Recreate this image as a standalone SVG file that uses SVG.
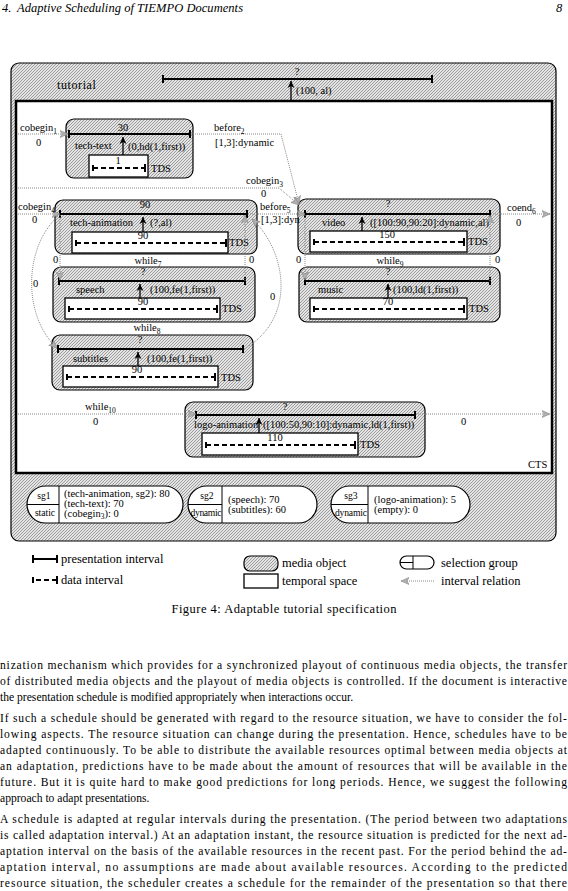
<svg xmlns="http://www.w3.org/2000/svg" width="568" height="891" viewBox="0 0 568 891">
<defs>
<style>
text{font-family:'Liberation Serif','Times New Roman',serif;fill:#000}
.s{font-size:10.5px}
.k{font-size:9.6px}
.m{text-anchor:middle}
.sub{font-size:7.5px}
.l{font-size:12.5px}
.b{font-size:11.6px}
.mo{fill:url(#hatch);stroke:#000;stroke-width:1.2}
.ts{fill:#fff;stroke:#000;stroke-width:1.3}
.pi{fill:none;stroke:#000;stroke-width:2}
.di{fill:none;stroke:#000;stroke-width:2;stroke-dasharray:5 3}
.ar{fill:none;stroke:#000;stroke-width:1.3;marker-end:url(#ba)}
.rel{fill:none;stroke:#8a8a8a;stroke-width:1;stroke-dasharray:1 1;marker-end:url(#ra)}
.sg{fill:#fff;stroke:#000;stroke-width:1.2}
.ln{fill:none;stroke:#000;stroke-width:1}
</style>
<pattern id="hatch" width="3" height="3" patternUnits="userSpaceOnUse">
<rect width="3" height="3" fill="#e4e4e4"/>
<rect x="2" y="0" width="1" height="1" fill="#9c9c9c"/>
<rect x="1" y="1" width="1" height="1" fill="#9c9c9c"/>
<rect x="0" y="2" width="1" height="1" fill="#9c9c9c"/>
</pattern>
<marker id="ra" viewBox="0 0 8 8" refX="8" refY="4" markerWidth="8" markerHeight="8" markerUnits="userSpaceOnUse" orient="auto">
<path d="M0,0.5 L8,4 L0,7.5 L2,4 Z" fill="#b0b0b0" stroke="#888" stroke-width="0.6"/>
</marker>
<marker id="ba" viewBox="0 0 8 8" refX="7" refY="4" markerWidth="8" markerHeight="8" markerUnits="userSpaceOnUse" orient="auto">
<path d="M0,0.5 L7,4 L0,7.5 L2,4 Z" fill="#000"/>
</marker>
</defs>
<rect width="568" height="891" fill="#fff"/>

<g id="header">
<text class="l" x="2" y="12" font-style="italic">4.</text>
<text class="l" x="17" y="12" font-style="italic" textLength="226">Adaptive Scheduling of TIEMPO Documents</text>
<text class="l" x="556" y="12" font-style="italic">8</text>
</g>

<g id="tutorial">
<rect class="mo" x="11" y="63" width="545" height="478" rx="8"/>
<text x="57" y="89" font-size="12" letter-spacing="0.6">tutorial</text>
<text class="s m" x="297" y="75">?</text>
<path class="pi" d="M163,79 H432 M163,75 V83 M432,75 V83"/>
<path class="ar" d="M291,101 V81"/>
<text class="s" x="296" y="94">(100, al)</text>
</g>

<g id="cts">
<rect x="16" y="101" width="536" height="372" fill="#fff" stroke="#000" stroke-width="2.5"/>
<text class="s" x="528" y="468">CTS</text>
</g>

<g id="tech-text">
<rect class="mo" x="66" y="119" width="127" height="59" rx="8"/>
<text class="s m" x="123" y="131">30</text>
<path class="pi" d="M69,134 H190 M69,130 V138 M190,130 V138"/>
<text class="s" x="75" y="149">tech-text</text>
<path class="ar" d="M123,155 V137"/>
<text class="s" x="128" y="150">(0,hd(1,first))</text>
<rect class="ts" x="89" y="155" width="59" height="22"/>
<text class="s m" x="118" y="164">1</text>
<path class="di" d="M93,168 H144"/>
<path class="pi" d="M93,165 V171 M145,164 V172"/>
<text class="s" x="151" y="172">TDS</text>
</g>

<g id="tech-animation">
<rect class="mo" x="55" y="200" width="202" height="54" rx="8"/>
<text class="s m" x="145" y="208">90</text>
<path class="pi" d="M60,214 H247 M60,210 V218 M247,210 V218"/>
<text class="s" x="70" y="226">tech-animation</text>
<path class="ar" d="M143,232 V217"/>
<text class="s" x="150" y="226">(?,al)</text>
<rect class="ts" x="72" y="232" width="156" height="21"/>
<text class="s m" x="143" y="239">90</text>
<path class="di" d="M76,243 H225"/>
<path class="pi" d="M76,240 V246 M226,239 V247"/>
<text class="s" x="229" y="246">TDS</text>
</g>

<g id="speech">
<rect class="mo" x="53" y="267" width="202" height="55" rx="8"/>
<text class="s m" x="143" y="275">?</text>
<path class="pi" d="M59,281 H245 M59,277 V285 M245,277 V285"/>
<text class="s" x="76" y="293">speech</text>
<path class="ar" d="M140,298 V284"/>
<text class="s" x="150" y="293">(100,fe(1,first))</text>
<rect class="ts" x="65" y="298" width="155" height="21"/>
<text class="s m" x="143" y="305">90</text>
<path class="di" d="M69,309 H216"/>
<path class="pi" d="M69,306 V312 M217,305 V313"/>
<text class="s" x="222" y="312">TDS</text>
</g>

<g id="subtitles">
<rect class="mo" x="52" y="335" width="201" height="55" rx="8"/>
<text class="s m" x="140" y="343">?</text>
<path class="pi" d="M58,349 H243 M58,345 V353 M243,345 V353"/>
<text class="s" x="73" y="362">subtitles</text>
<path class="ar" d="M138,366 V352"/>
<text class="s" x="147" y="362">(100,fe(1,first))</text>
<rect class="ts" x="63" y="366" width="155" height="21"/>
<text class="s m" x="137" y="373">90</text>
<path class="di" d="M67,377 H214"/>
<path class="pi" d="M67,374 V380 M215,373 V381"/>
<text class="s" x="221" y="381">TDS</text>
</g>

<g id="video">
<rect class="mo" x="298" y="199" width="202" height="55" rx="8"/>
<text class="s m" x="388" y="207">?</text>
<path class="pi" d="M305,214 H490 M305,210 V218 M490,210 V218"/>
<text class="s" x="322" y="226">video</text>
<path class="ar" d="M362,231 V217"/>
<text class="s" x="370" y="226">([100:90,90:20]:dynamic,al)</text>
<rect class="ts" x="310" y="231" width="157" height="21"/>
<text class="s m" x="387" y="238">150</text>
<path class="di" d="M314,242 H463"/>
<path class="pi" d="M314,239 V245 M464,238 V246"/>
<text class="s" x="468" y="245">TDS</text>
</g>

<g id="music">
<rect class="mo" x="299" y="267" width="201" height="55" rx="8"/>
<text class="s m" x="388" y="275">?</text>
<path class="pi" d="M305,281 H490 M305,277 V285 M490,277 V285"/>
<text class="s" x="318" y="293">music</text>
<path class="ar" d="M388,298 V284"/>
<text class="s" x="393" y="293">(100,ld(1,first))</text>
<rect class="ts" x="310" y="298" width="157" height="21"/>
<text class="s m" x="388" y="305">70</text>
<path class="di" d="M314,309 H463"/>
<path class="pi" d="M314,306 V312 M464,305 V313"/>
<text class="s" x="469" y="312">TDS</text>
</g>

<g id="logo-animation">
<rect class="mo" x="185" y="402" width="240" height="55" rx="8"/>
<text class="s m" x="285" y="410">?</text>
<path class="pi" d="M196,415 H415 M196,411 V419 M415,411 V419"/>
<text class="s" x="194" y="428">logo-animation</text>
<path class="ar" d="M259,433 V418"/>
<text class="s" x="263" y="428">([100:50,90:10]:dynamic,ld(1,first))</text>
<rect class="ts" x="202" y="433" width="156" height="22"/>
<text class="s m" x="275" y="441">110</text>
<path class="di" d="M206,445 H354"/>
<path class="pi" d="M206,442 V448 M355,441 V449"/>
<text class="s" x="360" y="448">TDS</text>
</g>

<g id="connectors">
<path class="rel" d="M18,134 H68"/>
<path class="rel" d="M191,134 H281 L299,204"/>
<path class="rel" d="M18,188 H279 L299,205"/>
<path class="rel" d="M18,214 H60"/>
<path class="rel" d="M248,214 H305"/>
<path class="rel" d="M491,214 H550"/>
<path class="rel" d="M60,215 V280"/>
<path class="rel" d="M245,281 V215"/>
<path class="rel" d="M58,216 C22,250 24,318 57,348"/>
<path class="rel" d="M244,349 C298,318 286,250 252,219"/>
<path class="rel" d="M305,215 V280"/>
<path class="rel" d="M490,281 V215"/>
<path class="rel" d="M18,414 H196"/>
<path class="rel" d="M416,414 H550"/>
<text class="s" x="20" y="131">cobegin<tspan class="sub" dy="3">1</tspan></text>
<text class="s" x="36" y="146">0</text>
<text class="s" x="214" y="131">before<tspan class="sub" dy="3">2</tspan></text>
<text class="s" x="215" y="146">[1,3]:dynamic</text>
<text class="s" x="246" y="184">cobegin<tspan class="sub" dy="3">3</tspan></text>
<text class="s" x="261" y="197">0</text>
<text class="s" x="18" y="210">cobegin<tspan class="sub" dy="3">4</tspan></text>
<text class="s" x="32" y="223">0</text>
<text class="s" x="260" y="210">before<tspan class="sub" dy="3">5</tspan></text>
<text class="s" x="261" y="223">[1,3]:dyn</text>
<text class="s" x="507" y="211">coend<tspan class="sub" dy="3">6</tspan></text>
<text class="s" x="516" y="226">0</text>
<text class="s" x="53" y="263">0</text>
<text class="s m" x="148" y="264">while<tspan class="sub" dy="3">7</tspan></text>
<text class="s" x="249" y="263">0</text>
<text class="s" x="296" y="263">0</text>
<text class="s m" x="390" y="264">while<tspan class="sub" dy="3">9</tspan></text>
<text class="s" x="495" y="263">0</text>
<text class="s" x="33" y="287">0</text>
<text class="s" x="270" y="300">0</text>
<text class="s m" x="147" y="331">while<tspan class="sub" dy="3">8</tspan></text>
<text class="s" x="85" y="410">while<tspan class="sub" dy="3">10</tspan></text>
<text class="s" x="93" y="425">0</text>
<text class="s" x="461" y="425">0</text>
</g>

<g id="sg1">
<rect class="sg" x="27" y="486" width="156" height="37" rx="18.5"/>
<path class="ln" d="M59,486 V523 M27,504.5 H59"/>
<text class="k m" x="44" y="499">sg1</text>
<text class="k m" x="45" y="516">static</text>
<text class="s" x="64" y="497">(tech-animation, sg2): 80</text>
<text class="s" x="64" y="507">(tech-text): 70</text>
<text class="s" x="64" y="517">(cobegin<tspan class="sub" dy="2">3</tspan><tspan dy="-2">): 0</tspan></text>
</g>

<g id="sg2">
<rect class="sg" x="188" y="486" width="129" height="37" rx="18.5"/>
<path class="ln" d="M222,486 V523 M188,504.5 H222"/>
<text class="k m" x="207" y="499">sg2</text>
<text class="k m" x="206" y="516" textLength="31">dynamic</text>
<text class="s" x="228" y="503">(speech): 70</text>
<text class="s" x="228" y="513">(subtitles): 60</text>
</g>

<g id="sg3">
<rect class="sg" x="331" y="486" width="139" height="37" rx="18.5"/>
<path class="ln" d="M368,486 V523 M331,504.5 H368"/>
<text class="k m" x="351" y="499">sg3</text>
<text class="k m" x="351" y="516" textLength="32">dynamic</text>
<text class="s" x="374" y="503">(logo-animation): 5</text>
<text class="s" x="374" y="513">(empty): 0</text>
</g>

<g id="legend">
<path class="pi" d="M33,559 H57 M33,555 V563 M57,555 V563"/>
<text class="l" x="61" y="563">presentation interval</text>
<path class="di" d="M36,580 H56" stroke-dasharray="4 4"/>
<path class="pi" d="M33,577 V583 M57,576 V584"/>
<text class="l" x="61" y="584">data interval</text>
<rect class="mo" x="244" y="556" width="34" height="15" rx="6"/>
<text class="l" x="282" y="567">media object</text>
<rect class="ts" x="244" y="574" width="34" height="14"/>
<text class="l" x="282" y="585">temporal space</text>
<rect class="sg" x="400" y="556" width="34" height="13" rx="6.5"/>
<path class="ln" d="M413,556 V569 M400,562.5 H413"/>
<text class="l" x="441" y="567">selection group</text>
<path class="rel" d="M434,581 H401"/>
<text class="l" x="441" y="585">interval relation</text>
</g>

<text class="l m" x="284" y="613" textLength="225">Figure 4: Adaptable tutorial specification</text>

<g id="body">
<text class="b" x="0" y="669" textLength="567">nization mechanism which provides for a synchronized playout of continuous media objects, the transfer</text>
<text class="b" x="0" y="685" textLength="567">of distributed media objects and the playout of media objects is controlled. If the document is interactive</text>
<text class="b" x="0" y="701">the presentation schedule is modified appropriately when interactions occur.</text>
<text class="b" x="0" y="722" textLength="567">If such a schedule should be generated with regard to the resource situation, we have to consider the fol-</text>
<text class="b" x="0" y="738" textLength="567">lowing aspects. The resource situation can change during the presentation. Hence, schedules have to be</text>
<text class="b" x="0" y="754" textLength="567">adapted continuously. To be able to distribute the available resources optimal between media objects at</text>
<text class="b" x="0" y="770" textLength="567">an adaptation, predictions have to be made about the amount of resources that will be available in the</text>
<text class="b" x="0" y="786" textLength="567">future. But it is quite hard to make good predictions for long periods. Hence, we suggest the following</text>
<text class="b" x="0" y="802">approach to adapt presentations.</text>
<text class="b" x="0" y="823" textLength="567">A schedule is adapted at regular intervals during the presentation. (The period between two adaptations</text>
<text class="b" x="0" y="839" textLength="567">is called adaptation interval.) At an adaptation instant, the resource situation is predicted for the next ad-</text>
<text class="b" x="0" y="855" textLength="567">aptation interval on the basis of the available resources in the recent past. For the period behind the ad-</text>
<text class="b" x="0" y="871" textLength="567">aptation interval, no assumptions are made about available resources. According to the predicted</text>
<text class="b" x="0" y="887" textLength="567">resource situation, the scheduler creates a schedule for the remainder of the presentation so that there</text>
</g>
</svg>
